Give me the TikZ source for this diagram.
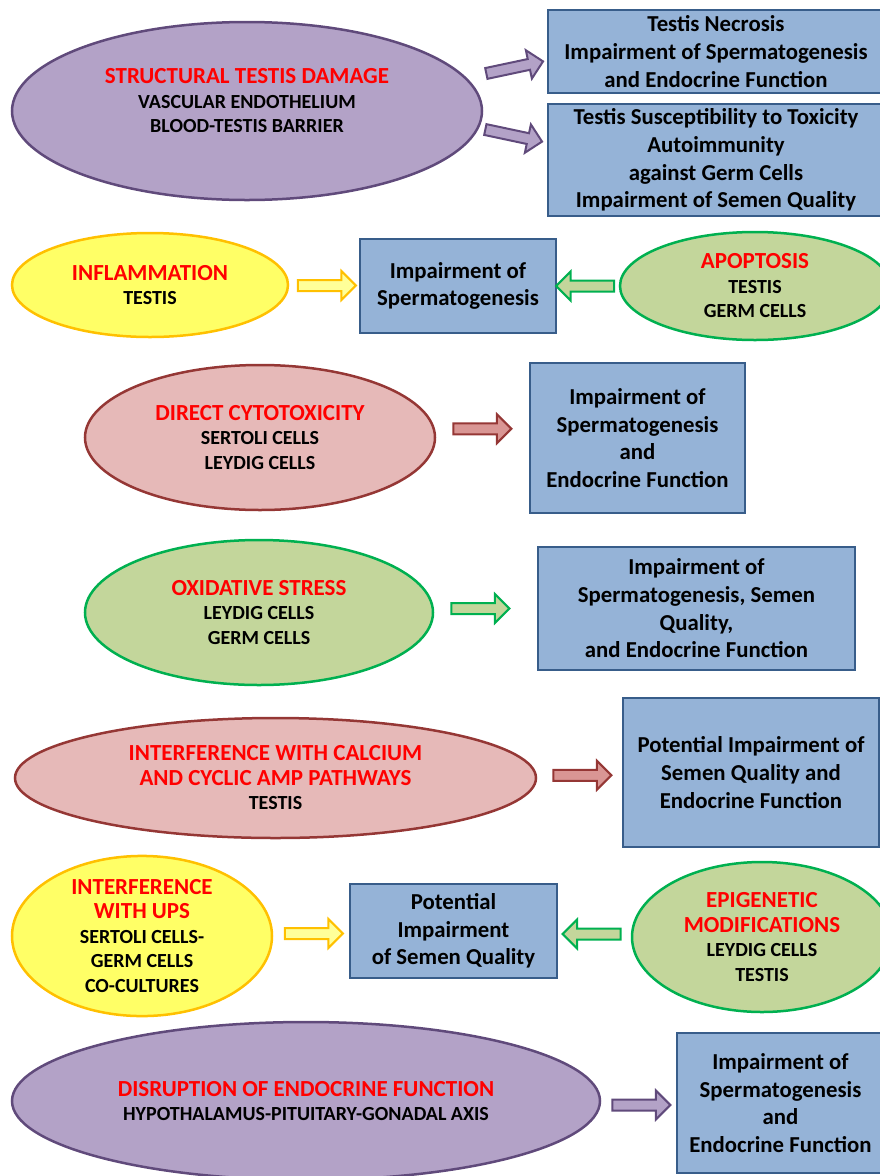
\documentclass[tikz,border=0pt]{standalone}
\usepackage{fontspec}
\setmainfont{Carlito}
\usepackage{xcolor}
\usetikzlibrary{shapes.geometric, shapes.arrows, calc, positioning}

\definecolor{purpfill}{HTML}{B3A2C7}
\definecolor{purpdraw}{HTML}{604A7B}
\definecolor{yelfill}{HTML}{FFFF66}
\definecolor{yelarr}{HTML}{FFFF99}
\definecolor{yeldraw}{HTML}{FFC000}
\definecolor{pinkfill}{HTML}{E6B9B8}
\definecolor{pinkarr}{HTML}{D99694}
\definecolor{pinkdraw}{HTML}{953735}
\definecolor{grnfill}{HTML}{C3D69B}
\definecolor{grndraw}{HTML}{00B050}
\definecolor{boxfill}{HTML}{95B3D7}
\definecolor{boxdraw}{HTML}{385D8A}

\newcommand{\redtitle}[1]{{\color{red}\fontsize{23}{24.5}\selectfont #1}}

\begin{document}
\begin{tikzpicture}[
    x=1pt, y=-1pt,
    ell_txt/.style={align=center, inner sep=0pt, font=\bfseries\fontsize{20}{24.5}\selectfont},
    ell/.style={ellipse, line width=2.5pt, inner sep=0pt, ell_txt},
    ell_purple/.style={ell, draw=purpdraw, fill=purpfill},
    ell_yellow/.style={ell, draw=yeldraw, fill=yelfill},
    ell_pink/.style={ell, draw=pinkdraw, fill=pinkfill},
    ell_green/.style={ell, draw=grndraw, fill=grnfill},
    box/.style={rectangle, draw=boxdraw, fill=boxfill, line width=2pt, align=center, inner sep=0pt, font=\bfseries\fontsize{22.8}{27.7}\selectfont},
    arr/.style={single arrow, minimum height=58pt, single arrow head extend=9pt, inner xsep=0pt, inner ysep=4.5pt, line width=2pt},
    arr_purple/.style={arr, draw=purpdraw, fill=purpfill},
    arr_yellow/.style={arr, draw=yeldraw, fill=yelarr},
    arr_pink/.style={arr, draw=pinkdraw, fill=pinkarr},
    arr_green/.style={arr, draw=grndraw, fill=grnfill}
]
    \useasboundingbox (0,0) rectangle (880,1176);

    % Structural damage
    \node[ell_purple, minimum width=470pt, minimum height=178pt,
        label={[ell_txt, yshift=10pt]center:{\redtitle{STRUCTURAL TESTIS DAMAGE}\\VASCULAR ENDOTHELIUM\\BLOOD-TESTIS BARRIER}}] (sdam) at (247,111) {};
    \node[box, minimum width=336pt, minimum height=83pt] (necro) at (716,51.5)
        {Testis Necrosis\\Impairment of Spermatogenesis\\and  Endocrine Function};
    \node[box, minimum width=336pt, minimum height=112pt] (suscep) at (716,160)
        {Testis Susceptibility to Toxicity\\Autoimmunity\\against Germ Cells\\Impairment of Semen Quality};
    \node[arr_purple, rotate=12] (a_necro) at (512,68) {};
    \node[arr_purple, rotate=-12] (a_suscep) at (511,135) {};

    % Inflammation / apoptosis
    \node[ell_yellow, minimum width=276pt, minimum height=104pt] (infl) at (150,285)
        {\redtitle{INFLAMMATION}\\TESTIS};
    \node[box, minimum width=196pt, minimum height=94pt] (spg1) at (458,286)
        {Impairment of\\Spermatogenesis};
    \node[ell_green, minimum width=270pt, minimum height=108pt] (apop) at (755,286)
        {\redtitle{APOPTOSIS}\\TESTIS\\GERM CELLS};
    \node[arr_yellow] (a_infl) at ($(infl.east)!0.5!(spg1.west)$) {};
    \node[arr_green, rotate=180] (a_apop) at ($(apop.west)!0.5!(spg1.east)$) {};

    % Cytotoxicity
    \node[ell_pink, minimum width=350pt, minimum height=145pt] (cyto) at (260,437.5)
        {\redtitle{DIRECT CYTOTOXICITY}\\SERTOLI CELLS\\LEYDIG CELLS};
    \node[box, minimum width=215pt, minimum height=150pt] (spg2) at (637.5,438)
        {Impairment of\\Spermatogenesis\\and\\Endocrine Function};
    \node[arr_pink] (a_cyto) at ($(cyto.east)!0.5!(spg2.west)+(-3,-9)$) {};

    % Oxidative stress
    \node[ell_green, minimum width=348pt, minimum height=145pt] (oxid) at (259,612.5)
        {\redtitle{OXIDATIVE STRESS}\\LEYDIG CELLS\\GERM CELLS};
    \node[box, minimum width=317pt, minimum height=123pt] (semen1) at (696.5,608.5)
        {Impairment of\\Spermatogenesis, Semen\\Quality,\\and Endocrine Function};
    \node[arr_green] (a_oxid) at ($(oxid.east)!0.5!(semen1.west)+(-8,-2)$) {};

    % Calcium / cAMP
    \node[ell_pink, minimum width=521pt, minimum height=120pt] (calc) at (275.5,778)
        {\redtitle{INTERFERENCE WITH CALCIUM}\\\redtitle{AND CYCLIC AMP PATHWAYS}\\TESTIS};
    \node[box, minimum width=256pt, minimum height=149pt] (semen2) at (751,772.5)
        {Potential Impairment of\\Semen Quality and\\Endocrine Function};
    \node[arr_pink] (a_calc) at ($(calc.east)!0.5!(semen2.west)$) {};

    % UPS / epigenetics
    \node[ell_yellow, minimum width=260pt, minimum height=152pt] (ups) at (142,936)
        {\redtitle{INTERFERENCE}\\\redtitle{WITH UPS}\\SERTOLI CELLS-\\GERM CELLS\\CO-CULTURES};
    \node[box, minimum width=207pt, minimum height=94pt] (semen3) at (453.5,931)
        {Potential\\Impairment\\of Semen Quality};
    \node[ell_green, minimum width=260pt, minimum height=150pt] (epig) at (762,937)
        {\redtitle{EPIGENETIC}\\\redtitle{MODIFICATIONS}\\LEYDIG CELLS\\TESTIS};
    \node[arr_yellow] (a_ups) at ($(ups.east)!0.5!(semen3.west)$) {};
    \node[arr_green, rotate=180] (a_epig) at ($(epig.west)!0.5!(semen3.east)$) {};

    % Endocrine disruption
    \node[ell_purple, minimum width=588pt, minimum height=158pt] (endo) at (306,1101)
        {\redtitle{DISRUPTION OF ENDOCRINE FUNCTION}\\HYPOTHALAMUS-PITUITARY-GONADAL AXIS};
    \node[box, minimum width=207pt, minimum height=140pt] (spg3) at (780.5,1103)
        {Impairment of\\Spermatogenesis\\and\\Endocrine Function};
    \node[arr_purple] (a_endo) at ($(endo.east)!0.5!(spg3.west)+(0,3)$) {};

\end{tikzpicture}
\end{document}
